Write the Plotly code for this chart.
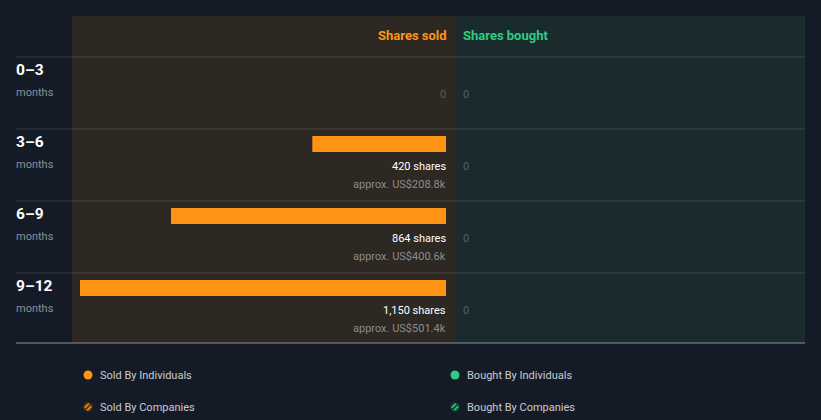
import plotly.graph_objects as go

W, H = 821, 420

periods = ["0–3", "3–6", "6–9", "9–12"]
period_unit = "months"
sold_shares = [0, 420, 864, 1150]
sold_value = [None, "US$208.8k", "US$400.6k", "US$501.4k"]
bought_shares = [0, 0, 0, 0]
legend_labels = ["Sold By Individuals", "Sold By Companies", "Bought By Individuals", "Bought By Companies"]

BG = "#151b26"
SOLD_BG = "#2d2822"
BOUGHT_BG = "#1a2b2e"
ORANGE = "#ff9316"
GREEN = "#2ecc80"
FONT = "Roboto"


def px(x):
    return x / W


def py(y):
    return 1 - y / H


# pixel geometry
sold_left, mid, bought_right = 72, 455, 805
zero_px, max_px = 446, 80
scale = (zero_px - max_px) / max(sold_shares)  # px per share
row_px = 72.0
row0_center = 72.0

fig = go.Figure()
rows = list(range(len(periods)))
fig.add_trace(go.Bar(
    y=rows, x=sold_shares, orientation="h", xaxis="x", yaxis="y",
    marker=dict(color=ORANGE, line=dict(width=0)), width=16 / row_px,
    name=legend_labels[0], hoverinfo="skip", showlegend=False))
fig.add_trace(go.Bar(
    y=rows, x=bought_shares, orientation="h", xaxis="x2", yaxis="y",
    marker=dict(color=GREEN, line=dict(width=0)), width=16 / row_px,
    name=legend_labels[2], hoverinfo="skip", showlegend=False))

shapes = []
# panels
shapes.append(dict(type="rect", xref="paper", yref="paper", x0=px(sold_left), x1=px(mid),
                   y0=py(343), y1=py(16), fillcolor=SOLD_BG, line=dict(width=0), layer="below"))
shapes.append(dict(type="rect", xref="paper", yref="paper", x0=px(mid), x1=px(bought_right),
                   y0=py(343), y1=py(16), fillcolor=BOUGHT_BG, line=dict(width=0), layer="below"))
# separators
for i in range(len(periods)):
    yy = i - 15 / row_px
    shapes.append(dict(type="line", xref="paper", yref="y", x0=px(16), x1=px(bought_right),
                       y0=yy, y1=yy, line=dict(color="rgba(255,255,255,0.12)", width=1)))
shapes.append(dict(type="line", xref="paper", yref="paper", x0=px(16), x1=px(bought_right),
                   y0=py(343), y1=py(343), line=dict(color="#8a9296", width=1)))

annotations = []
annotations.append(dict(text="<b>Shares sold</b>", xref="paper", yref="paper", x=px(447), y=py(35),
                        xanchor="right", yanchor="middle", showarrow=False, xshift=2,
                        font=dict(family=FONT, size=13, color=ORANGE)))
annotations.append(dict(text="<b>Shares bought</b>", xref="paper", yref="paper", x=px(463), y=py(35),
                        xanchor="left", yanchor="middle", showarrow=False, xshift=-2,
                        font=dict(family=FONT, size=13, color=GREEN)))

for i, p in enumerate(periods):
    annotations.append(dict(text="<b>%s</b>" % p, xref="paper", yref="y", x=px(16), y=i - 2 / row_px,
                            xanchor="left", yanchor="middle", showarrow=False, xshift=-2,
                            font=dict(family=FONT, size=15.5, color="#ffffff")))
    annotations.append(dict(text=period_unit, xref="paper", yref="y", x=px(16), y=i + 20 / row_px,
                            xanchor="left", yanchor="middle", showarrow=False, xshift=-2,
                            font=dict(family=FONT, size=11, color="#8b9098")))
    if sold_shares[i] > 0:
        annotations.append(dict(text="{:,} shares".format(sold_shares[i]), xref="x", yref="y", x=0,
                                y=i + 22 / row_px, xanchor="right", yanchor="middle", showarrow=False,
                                xshift=2, font=dict(family=FONT, size=11, color="#ffffff")))
        annotations.append(dict(text="approx. " + sold_value[i], xref="x", yref="y", x=0,
                                y=i + 40 / row_px, xanchor="right", yanchor="middle", showarrow=False,
                                xshift=2, font=dict(family=FONT, size=11, color="#8c8c8c")))
    else:
        annotations.append(dict(text=str(sold_shares[i]), xref="x", yref="y", x=0,
                                y=i + 22 / row_px, xanchor="right", yanchor="middle", showarrow=False,
                                xshift=2, font=dict(family=FONT, size=11, color="#5d5a56")))
    annotations.append(dict(text=str(bought_shares[i]), xref="paper", yref="y", x=px(463),
                            y=i + 22 / row_px, xanchor="left", yanchor="middle", showarrow=False,
                            xshift=-2, font=dict(family=FONT, size=11, color="#4e6663")))

# legend (custom)
leg_pos = [(88, 375), (88, 407), (455, 375), (455, 407)]
leg_col = [ORANGE, ORANGE, GREEN, GREEN]
for k, (lx, ly) in enumerate(leg_pos):
    r = 4.5
    hatched = k % 2 == 1
    shapes.append(dict(type="circle", xref="paper", yref="paper",
                       x0=px(lx - r), x1=px(lx + r), y0=py(ly + r), y1=py(ly - r),
                       fillcolor=("#5a3a16" if leg_col[k] == ORANGE else "#174a34") if hatched else leg_col[k],
                       line=dict(width=0)))
    if hatched:
        for (ax, ay, bx, by) in ((-3.3, 0.8, 0.8, -3.3), (-0.8, 3.3, 3.3, -0.8)):
            shapes.append(dict(type="line", xref="paper", yref="paper",
                               x0=px(lx + ax), y0=py(ly + ay), x1=px(lx + bx), y1=py(ly + by),
                               line=dict(color=leg_col[k], width=1.4)))
    annotations.append(dict(text=legend_labels[k], xref="paper", yref="paper", x=px(lx + 12), y=py(ly),
                            xanchor="left", yanchor="middle", showarrow=False, xshift=-2,
                            font=dict(family=FONT, size=11, color="#c9ccd1")))

# axes
x_left_val = (zero_px - sold_left) / scale
x_right_val = -(mid - zero_px) / scale
fig.update_layout(
    width=W, height=H, margin=dict(l=0, r=0, t=0, b=0),
    paper_bgcolor=BG, plot_bgcolor="rgba(0,0,0,0)",
    showlegend=False, barmode="overlay",
    xaxis=dict(domain=[px(sold_left), px(mid)], range=[x_left_val, x_right_val],
               visible=False, fixedrange=True),
    xaxis2=dict(domain=[px(mid), px(bought_right)], range=[0, 1000], visible=False,
                fixedrange=True, anchor="y"),
    yaxis=dict(domain=[0, 1], range=[(H - row0_center) / row_px, -row0_center / row_px],
               visible=False, fixedrange=True),
    shapes=shapes, annotations=annotations,
    font=dict(family=FONT),
)

fig.write_html("out.html", config={"displayModeBar": False})
